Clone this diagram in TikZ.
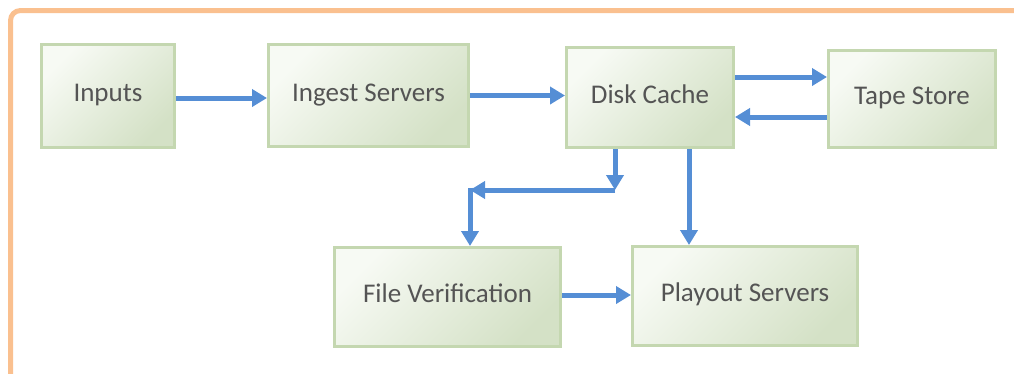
\documentclass[tikz,border=0pt]{standalone}
\usepackage{fontspec}
\setmainfont{Carlito}
\usetikzlibrary{arrows.meta}
\definecolor{frameorange}{RGB}{250,192,143}
\definecolor{boxedge}{RGB}{196,215,176}
\definecolor{boxlight}{RGB}{247,250,244}
\definecolor{boxdark}{RGB}{212,225,198}
\definecolor{arrowblue}{RGB}{85,142,213}
\definecolor{textgray}{RGB}{84,84,84}
\begin{document}
\begin{tikzpicture}[x=1pt,y=-1pt,
  stagebox/.style={draw=boxedge, line width=3pt,
    top color=boxlight, bottom color=boxdark, shading angle=45,
    text=textgray, font=\fontsize{27}{31}\selectfont,
    text height=17.5pt, text depth=6pt, inner sep=0pt},
  arr/.style={draw=arrowblue, line width=5pt, -{Triangle[length=15pt,width=17pt]}}]
\useasboundingbox (0,0) rectangle (1014,373);
\clip (0,0) rectangle (1014,373);
% outer frame
\draw[frameorange, line width=5pt, rounded corners=10pt] (10.5,400) -- (10.5,10.5) -- (1040,10.5);
% boxes
\node[stagebox, minimum width=133pt, minimum height=103pt] (inputs) at (108,96) {Inputs};
\node[stagebox, minimum width=200pt, minimum height=102pt] (ingest) at (368.5,95.5) {Ingest Servers};
\node[stagebox, minimum width=167pt, minimum height=100pt] (disk) at (650,97.5) {Disk Cache};
\node[stagebox, minimum width=167pt, minimum height=97pt] (tape) at (912,99) {Tape Store};
\node[stagebox, minimum width=226pt, minimum height=99pt] (fv) at (447.5,297) {File Verification};
\node[stagebox, minimum width=225pt, minimum height=99pt] (playout) at (745,296) {Playout Servers};
\coordinate (c1) at (615,190);
\coordinate (c2) at (470,190);
% connectors
\draw[arr] ([yshift=-2pt]inputs.east) -- ([yshift=-2pt]inputs.east -| ingest.west);
\draw[arr] (ingest.east) -- (ingest.east -| disk.west);
\draw[arr] ([yshift=20.5pt]disk.east) -- ([yshift=20.5pt]disk.east -| tape.west);
\draw[arr] ([yshift=-18pt]tape.west) -- ([yshift=-18pt]tape.west -| disk.east);
\draw[arr] (disk.south -| c1) -- (c1);
\draw[arr] (c1) -- (c2);
\draw[arr] ([yshift=2.5pt]c2) -- (c2 |- fv.north);
\draw[arr] ([xshift=39pt]disk.south) -- ([xshift=39pt]disk.south |- playout.north);
\draw[arr] ([yshift=2pt]fv.east) -- ([yshift=2pt]fv.east -| playout.west);
\end{tikzpicture}
\end{document}
